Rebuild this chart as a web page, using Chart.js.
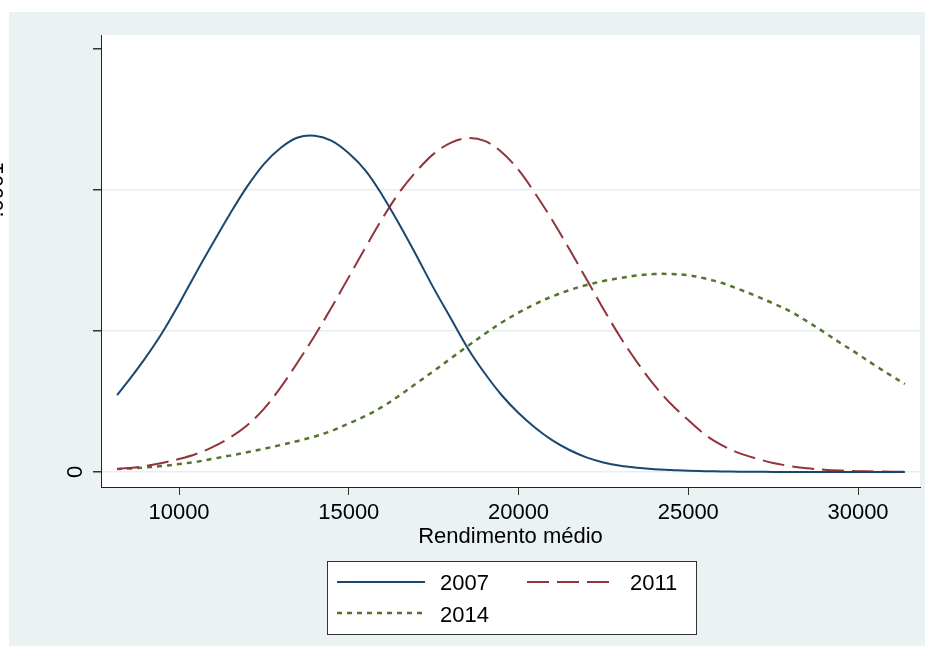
<!DOCTYPE html>
<html>
<head>
<meta charset="utf-8">
<script src="https://cdn.jsdelivr.net/npm/chart.js@4.4.1/dist/chart.umd.min.js"></script>
<style>
  html, body { margin: 0; padding: 0; background: #fff; }
  canvas { display: block; }
</style>
</head>
<body>
<canvas id="chart" width="933" height="656"></canvas>
<script>
// --- DATA (kernel density, values in units of 1e-5) ---
const income = [8176, 8500, 9000, 9500, 10000, 10500, 11000, 11500, 12000, 12500,
  13000, 13500, 14000, 14500, 15000, 15500, 16000, 16500, 17000, 17500,
  18000, 18500, 19000, 19500, 20000, 20500, 21000, 21500, 22000, 22500,
  23000, 23500, 24000, 24500, 25000, 25500, 26000, 26500, 27000, 27500,
  28000, 28500, 29000, 29500, 30000, 30500, 31000, 31382];

const dens2007 = [2.73, 3.22, 4.03, 4.93, 5.96, 7.06, 8.12, 9.15, 10.11, 10.92,
  11.50, 11.86, 11.92, 11.74, 11.30, 10.68, 9.79, 8.76, 7.66, 6.52,
  5.46, 4.40, 3.51, 2.73, 2.09, 1.56, 1.12, 0.78, 0.52, 0.34,
  0.22, 0.15, 0.10, 0.07, 0.04, 0.03, 0.02, 0.01, 0.01, 0.00,
  0.00, 0.00, 0.00, 0.00, 0.00, 0.00, 0.00, 0.00];

const dens2011 = [0.11, 0.14, 0.21, 0.32, 0.46, 0.64, 0.89, 1.22, 1.65, 2.24,
  3.01, 3.90, 4.84, 5.85, 6.91, 7.98, 9.01, 9.93, 10.67, 11.28,
  11.67, 11.84, 11.74, 11.35, 10.71, 9.86, 8.92, 7.90, 6.84, 5.78,
  4.78, 3.88, 3.08, 2.40, 1.84, 1.32, 0.94, 0.67, 0.48, 0.32,
  0.21, 0.13, 0.08, 0.05, 0.03, 0.02, 0.01, 0.01];

const dens2014 = [0.11, 0.12, 0.16, 0.21, 0.28, 0.36, 0.47, 0.58, 0.70, 0.82,
  0.96, 1.10, 1.26, 1.46, 1.72, 1.99, 2.32, 2.72, 3.15, 3.58,
  4.02, 4.46, 4.89, 5.30, 5.65, 5.96, 6.23, 6.45, 6.63, 6.77,
  6.88, 6.97, 7.02, 7.02, 6.98, 6.86, 6.70, 6.48, 6.24, 5.98,
  5.70, 5.34, 4.96, 4.56, 4.18, 3.78, 3.40, 3.12];

const seriesNames = ['2007', '2011', '2014'];
const xTicks = [10000, 15000, 20000, 25000, 30000];
const yTicks = [0, 5, 10, 15];
const yTickLabels = ['0', '', '.0001', ''];

// --- STYLE ---
const FONT = '"Liberation Sans", Arial, sans-serif';
const PANEL = '#eaf2f3';
const colors = ['#1a476f', '#90353b', '#55752f'];
const dashes = [[], [22, 8], [5, 5]];
const widths = [2, 2, 2.5];

const toPoints = ys => income.map((x, i) => ({ x, y: ys[i] }));

const datasets = [dens2007, dens2011, dens2014].map((ys, i) => ({
  label: seriesNames[i],
  data: toPoints(ys),
  borderColor: colors[i],
  borderWidth: widths[i],
  borderDash: dashes[i],
  pointRadius: 0,
  tension: 0.35,
  fill: false
}));

// panel backgrounds, legend, titles and rotated y labels
const stataDecor = {
  id: 'stataDecor',
  beforeDraw(chart) {
    const { ctx, chartArea: a } = chart;
    ctx.save();
    ctx.fillStyle = '#fff';
    ctx.fillRect(0, 0, chart.width, chart.height);
    ctx.fillStyle = PANEL;
    ctx.fillRect(9, 12, 916, 634);
    ctx.fillStyle = '#fff';
    ctx.fillRect(a.left, a.top, a.right - a.left, a.bottom - a.top);
    ctx.restore();
  },
  afterDraw(chart) {
    const { ctx, chartArea: a, scales } = chart;
    ctx.save();
    ctx.fillStyle = '#000';
    ctx.font = '22px ' + FONT;

    // x axis title
    ctx.textAlign = 'center';
    ctx.textBaseline = 'alphabetic';
    ctx.fillText('Rendimento médio', (a.left + a.right) / 2, 543);

    // y tick labels, rotated as in Stata (the second one is mostly off the page)
    ctx.save();
    ctx.translate(82, scales.y.getPixelForValue(0));
    ctx.rotate(-Math.PI / 2);
    ctx.fillText(yTickLabels[0], 0, 0);
    ctx.restore();
    ctx.save();
    ctx.translate(3, scales.y.getPixelForValue(10));
    ctx.rotate(-Math.PI / 2);
    ctx.fillText(yTickLabels[2], 0, 0);
    ctx.restore();

    // legend
    ctx.fillStyle = '#fff';
    ctx.fillRect(327, 561, 369, 73);
    ctx.strokeStyle = '#333';
    ctx.lineWidth = 1;
    ctx.strokeRect(327.5, 561.5, 369, 73);
    const items = [
      { x: 337, y: 582, len: 88, tx: 440, ty: 590 },
      { x: 527, y: 582, len: 89, tx: 630, ty: 590 },
      { x: 337, y: 613, len: 86, tx: 440, ty: 622 }
    ];
    items.forEach((it, i) => {
      ctx.beginPath();
      ctx.strokeStyle = colors[i];
      ctx.lineWidth = widths[i];
      ctx.setLineDash(dashes[i]);
      ctx.moveTo(it.x, it.y);
      ctx.lineTo(it.x + it.len, it.y);
      ctx.stroke();
      ctx.setLineDash([]);
      ctx.fillStyle = '#000';
      ctx.textAlign = 'left';
      ctx.fillText(seriesNames[i], it.tx, it.ty);
    });
    ctx.restore();
  }
};

new Chart(document.getElementById('chart'), {
  type: 'line',
  data: { datasets },
  plugins: [stataDecor],
  options: {
    responsive: false,
    animation: false,
    devicePixelRatio: 1,
    layout: { padding: { top: 35, right: 13, left: 0, bottom: 0 } },
    plugins: { legend: { display: false }, tooltip: { enabled: false } },
    scales: {
      x: {
        type: 'linear',
        min: 7702,
        max: 31826,
        afterBuildTicks: s => { s.ticks = xTicks.map(v => ({ value: v })); },
        afterFit: s => { s.height = 169; },
        grid: { drawOnChartArea: false, color: 'rgba(0,0,0,0)', tickColor: '#333', tickLength: 8 },
        border: { display: true, color: '#222', width: 1 },
        ticks: {
          font: { family: FONT, size: 22 },
          color: '#000',
          padding: 5,
          maxRotation: 0,
          callback: v => String(v)
        }
      },
      y: {
        type: 'linear',
        min: -0.532,
        max: 15.496,
        afterBuildTicks: s => { s.ticks = yTicks.map(v => ({ value: v })); },
        afterFit: s => { s.width = 101; },
        grid: {
          color: c => (c.tick && c.tick.value === 15) ? 'rgba(0,0,0,0)' : '#e6eef0',
          lineWidth: 1.5,
          tickColor: '#333',
          tickLength: 8
        },
        border: { display: true, color: '#222', width: 1 },
        ticks: { display: false }
      }
    }
  }
});
</script>
</body>
</html>
